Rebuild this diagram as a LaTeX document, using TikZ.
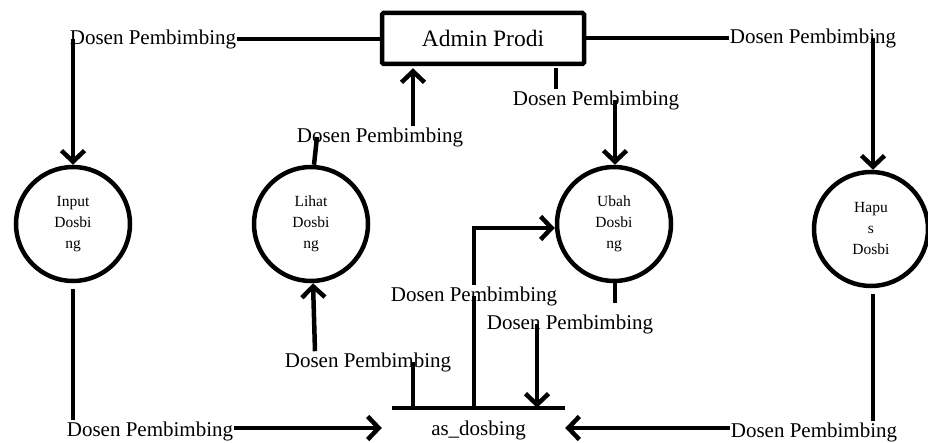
\documentclass[tikz,border=0pt]{standalone}
\usepackage{fontspec}
\setmainfont{Liberation Serif}
\usetikzlibrary{arrows.meta}
\begin{document}
\begin{tikzpicture}[x=1pt,y=-1pt,
  line/.style={line width=4.5pt},
  flow/.style={line width=4.5pt,-{Straight Barb[length=11pt,width=23pt]}},
  lbl/.style={inner sep=1pt,font=\fontsize{21}{25}\selectfont},
  proc/.style={circle,draw,line width=4.5pt,minimum size=114pt,inner sep=0pt,
    align=center,font=\fontsize{15.5}{21}\selectfont},
  entity/.style={draw,line width=4.5pt,rounded corners=1.5pt,minimum width=202pt,
    minimum height=51pt,font=\fontsize{23.5}{28}\selectfont},
  store/.style={minimum width=173pt,minimum height=44pt,inner sep=0pt,
    font=\fontsize{21}{25}\selectfont}]
\useasboundingbox (0,0) rectangle (928,443);

% external entity
\node[entity] (admin) at (483,38.5) {Admin Prodi};

% processes
\node[proc] (inp) at (73,224) {Input\\Dosbi\\ng};
\node[proc] (lihat) at (311,224) {Lihat\\Dosbi\\ng};
\node[proc] (ubah) at (614,224) {Ubah\\Dosbi\\ng};
\node[proc] (hapus) at (871,229) {Hapu\\s\\Dosbi};

% data store
\node[store] (store) at (478.5,430) {as\_dosbing};
\draw[line] (store.north west) -- (store.north east);
\coordinate (inL) at ([xshift=-10pt,yshift=2pt]store.west);
\coordinate (inR) at ([yshift=2pt]store.east);

% flow labels
\node[lbl] (lblTL) at (153,39) {Dosen Pembimbing};
\node[lbl] (lblTR) at (813,38) {Dosen Pembimbing};
\node[lbl] (lblAU) at (380,137) {Dosen Pembimbing};
\node[lbl] (lblAD) at (596,100) {Dosen Pembimbing};
\node[lbl] (lblBL) at (150,431) {Dosen Pembimbing};
\node[lbl] (lblBR) at (814,432) {Dosen Pembimbing};
\node[lbl] (lblLh) at (368,362) {Dosen Pembimbing};
\node[lbl] (lblMd) at (474,296) {Dosen Pembimbing};
\node[lbl] (lblUb) at (570,324) {Dosen Pembimbing};

% top flows
\draw[line] (lblTL.east) -- (lblTL.east -| admin.west);
\draw[line] (admin.east |- lblTR.west) -- (lblTR.west);
\draw[flow] (inp.north |- lblTL.center) -- (inp.north);
\draw[flow] ([xshift=2pt]hapus.north |- lblTR.center) -- ([xshift=2pt]hapus.north);
\draw[flow] ([xshift=-70pt]admin.south |- lblAU.north) -- ([xshift=-70pt,yshift=-2pt]admin.south);
\draw[line] ([xshift=6pt]lihat.north |- lblAU.center) -- ([xshift=3pt]lihat.north);
\draw[line] ([xshift=73pt,yshift=-2pt]admin.south) -- ([xshift=73pt]admin.south |- lblAD.north);
\draw[flow] ([xshift=1pt]ubah.north |- lblAD.center) -- ([xshift=1pt]ubah.north);

% bottom flows
\draw[line] ([yshift=-6pt]inp.south) -- (inp.south |- lblBL.north);
\draw[flow] (lblBL.east |- inL) -- (inL);
\draw[line] ([xshift=2pt,yshift=-6pt]hapus.south) -- ([xshift=2pt]hapus.south |- lblBR.north);
\draw[flow] (lblBR.west |- inR) -- (inR);
\draw[flow] ([xshift=4pt]lihat.south |- lblLh.north) -- ([xshift=2pt]lihat.south);
\draw[line] ([xshift=45pt]lblLh.center) -- ([xshift=45pt]lblLh.center |- store.north);
\draw[line] (store.north -| lblMd.center) -- (lblMd.center);
\draw[flow] (lblMd.north) |- ([yshift=-4pt]ubah.west);
\draw[line] ([xshift=1pt]ubah.south) -- ([xshift=1pt,yshift=-20pt]ubah.south);
\draw[flow] ([xshift=-33pt]lblUb.center) -- ([xshift=-33pt]lblUb.center |- store.north);
\end{tikzpicture}
\end{document}
